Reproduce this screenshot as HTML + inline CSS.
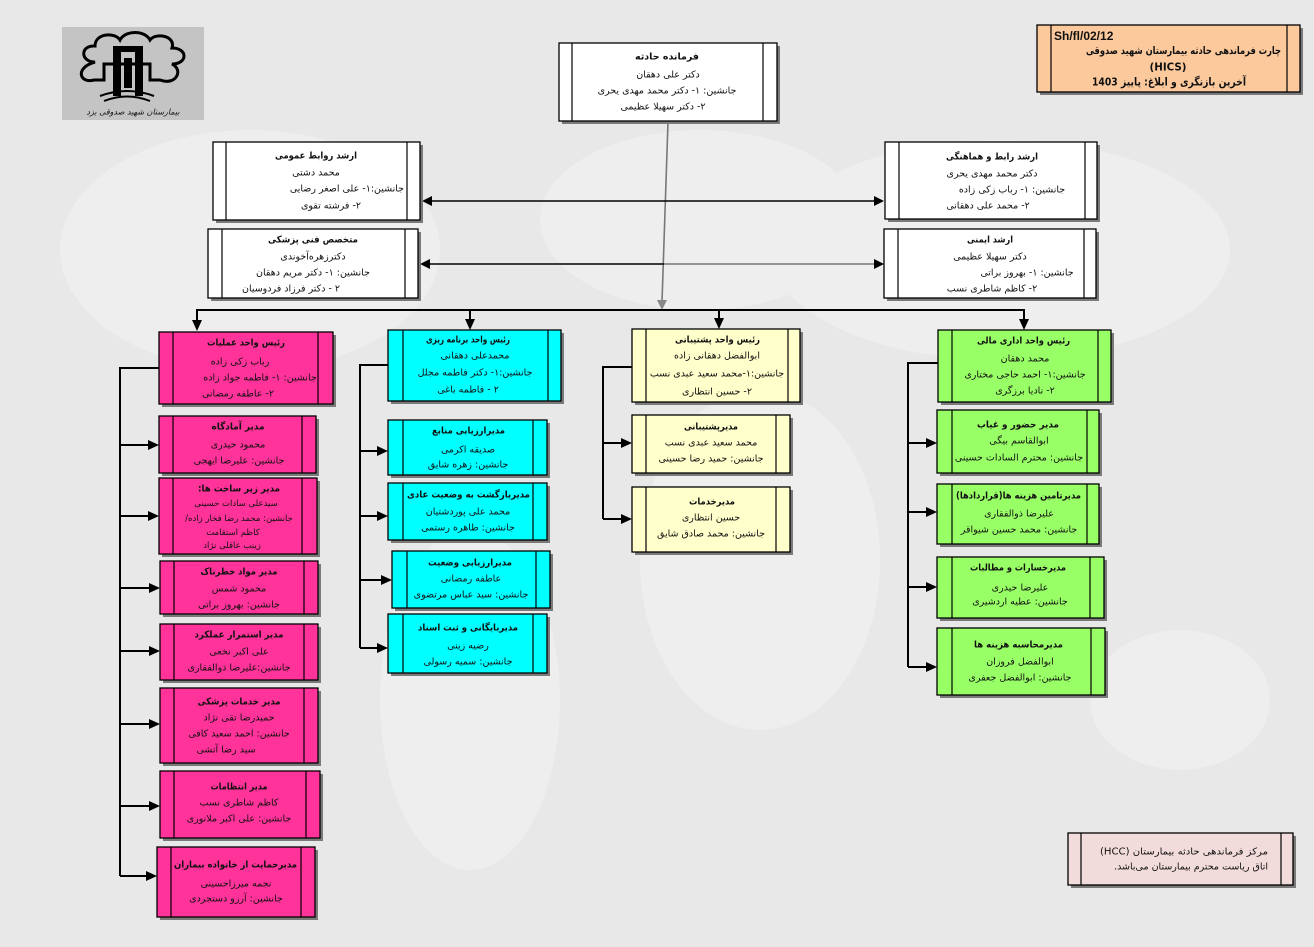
<!DOCTYPE html>
<html>
<head>
<meta charset="utf-8">
<style>
html,body{margin:0;padding:0;background:#e8e8e8;}
svg{display:block;}
text{font-family:"DejaVu Sans","Liberation Sans",sans-serif;font-size:9.5px;fill:#111;direction:rtl;dominant-baseline:central;text-anchor:middle;}
text.b{font-weight:bold;}
text.l{direction:ltr;font-family:"Liberation Sans",sans-serif;}
.sh{fill:#7a7a7a;}
.bx{stroke:#000;stroke-width:1.3;}
.in{stroke:#000;stroke-width:1.2;}
.cn{stroke:#000;stroke-width:2;fill:none;}
.ah{fill:#000;}
</style>
</head>
<body>
<svg width="1314" height="947" viewBox="0 0 1314 947" xmlns="http://www.w3.org/2000/svg">
<rect x="0" y="0" width="1314" height="947" fill="#e8e8e8"/>
<g fill="#eeeeee">
<ellipse cx="250" cy="250" rx="190" ry="120"/>
<ellipse cx="700" cy="220" rx="160" ry="90"/>
<ellipse cx="1000" cy="250" rx="230" ry="110"/>
<ellipse cx="760" cy="560" rx="120" ry="170"/>
<ellipse cx="470" cy="700" rx="90" ry="170"/>
<ellipse cx="1180" cy="700" rx="90" ry="70"/>
</g>

<!-- Logo -->
<rect x="62" y="27" width="142" height="93" fill="#c4c4c4"/>
<path d="M95 62 C80 62 80 45 95 46 C95 33 115 32 120 40 C125 30 145 30 150 40 C156 32 176 36 172 48 C188 48 188 64 172 64 C184 70 176 86 160 80 L150 80 L150 64 L104 64 L104 80 L94 80 C80 84 74 68 95 62 Z" fill="none" stroke="#000" stroke-width="3"/>
<rect x="113" y="46" width="30" height="6" fill="#000"/>
<rect x="113" y="52" width="8" height="44" fill="#000"/>
<rect x="135" y="52" width="8" height="44" fill="#000"/>
<rect x="124" y="58" width="8" height="30" fill="#000"/>
<path d="M100 96 Q127 86 154 96 M104 101 Q127 92 150 101" stroke="#000" stroke-width="2" fill="none"/>
<text x="133" y="112" style="font-size:8px;font-style:italic">بیمارستان شهید صدوقی یزد</text>

<!-- Connectors top -->
<line x1="668" y1="122" x2="662" y2="302" stroke="#777" stroke-width="1.6"/>
<polygon points="657,300 667,300 662,310" fill="#888"/>
<line x1="430" y1="201" x2="876" y2="201" stroke="#000" stroke-width="1.4"/>
<polygon class="ah" points="422,201 432,196 432,206"/>
<polygon class="ah" points="884,201 874,196 874,206"/>
<line x1="428" y1="264" x2="664" y2="264" stroke="#000" stroke-width="1.4"/>
<line x1="664" y1="264" x2="876" y2="264" stroke="#777" stroke-width="1.4"/>
<polygon class="ah" points="420,264 430,259 430,269"/>
<polygon class="ah" points="884,264 874,259 874,269"/>

<!-- bus -->
<line class="cn" x1="196" y1="310" x2="1025" y2="310"/>
<line class="cn" x1="197" y1="310" x2="197" y2="322"/>
<polygon class="ah" points="192,320 202,320 197,331"/>
<line class="cn" x1="470" y1="310" x2="470" y2="320"/>
<polygon class="ah" points="465,319 475,319 470,330"/>
<line class="cn" x1="719" y1="310" x2="719" y2="320"/>
<polygon class="ah" points="714,318 724,318 719,329"/>
<line class="cn" x1="1024" y1="310" x2="1024" y2="320"/>
<polygon class="ah" points="1019,319 1029,319 1024,330"/>

<!-- Pink connectors -->
<path class="cn" d="M159 368 H120 V876"/>
<line class="cn" x1="120" y1="445" x2="150" y2="445"/><polygon class="ah" points="148,440 159,445 148,450"/>
<line class="cn" x1="120" y1="516" x2="150" y2="516"/><polygon class="ah" points="148,511 159,516 148,521"/>
<line class="cn" x1="120" y1="588" x2="150" y2="588"/><polygon class="ah" points="149,583 160,588 149,593"/>
<line class="cn" x1="120" y1="651" x2="150" y2="651"/><polygon class="ah" points="149,646 160,651 149,656"/>
<line class="cn" x1="120" y1="724" x2="150" y2="724"/><polygon class="ah" points="149,719 160,724 149,729"/>
<line class="cn" x1="120" y1="806" x2="150" y2="806"/><polygon class="ah" points="149,801 160,806 149,811"/>
<line class="cn" x1="120" y1="876" x2="148" y2="876"/><polygon class="ah" points="146,871 157,876 146,881"/>
<!-- Cyan connectors -->
<path class="cn" d="M388 365 H360 V648"/>
<line class="cn" x1="360" y1="451" x2="380" y2="451"/><polygon class="ah" points="377,446 388,451 377,456"/>
<line class="cn" x1="360" y1="516" x2="380" y2="516"/><polygon class="ah" points="377,511 388,516 377,521"/>
<line class="cn" x1="360" y1="580" x2="384" y2="580"/><polygon class="ah" points="381,575 392,580 381,585"/>
<line class="cn" x1="360" y1="648" x2="380" y2="648"/><polygon class="ah" points="377,643 388,648 377,653"/>
<!-- Yellow connectors -->
<path class="cn" d="M632 367 H603 V519"/>
<line class="cn" x1="603" y1="443" x2="624" y2="443"/><polygon class="ah" points="621,438 632,443 621,448"/>
<line class="cn" x1="603" y1="519" x2="624" y2="519"/><polygon class="ah" points="621,514 632,519 621,524"/>
<!-- Green connectors -->
<path class="cn" d="M938 363 H908 V667"/>
<line class="cn" x1="908" y1="443" x2="929" y2="443"/><polygon class="ah" points="926,438 937,443 926,448"/>
<line class="cn" x1="908" y1="512" x2="929" y2="512"/><polygon class="ah" points="926,507 937,512 926,517"/>
<line class="cn" x1="908" y1="587" x2="929" y2="587"/><polygon class="ah" points="926,582 937,587 926,592"/>
<line class="cn" x1="908" y1="667" x2="929" y2="667"/><polygon class="ah" points="926,662 937,667 926,672"/>

<!-- Top center -->
<rect class="sh" x="562" y="46" width="218" height="78"/>
<rect class="bx" x="559" y="43" width="218" height="78" fill="#fff"/>
<line class="in" x1="572" y1="43" x2="572" y2="121"/><line class="in" x1="763" y1="43" x2="763" y2="121"/>
<text class="b" x="667" y="57" textLength="64" lengthAdjust="spacingAndGlyphs">فرمانده حادثه</text>
<text x="668" y="75">دکتر علی دهقان</text>
<text x="667" y="91">جانشین: ۱- دکتر محمد مهدی یحری</text>
<text x="663" y="107">۲- دکتر سهیلا عظیمی</text>

<!-- Orange title -->
<rect class="sh" x="1040" y="28" width="263" height="67"/>
<rect class="bx" x="1037" y="25" width="263" height="67" fill="#fbc99c"/>
<line class="in" x1="1051" y1="25" x2="1051" y2="92"/><line class="in" x1="1287" y1="25" x2="1287" y2="92"/>
<text class="b l" x="1054" y="36" style="text-anchor:start;font-size:12px">Sh/fl/02/12</text>
<text class="b" x="1183.5" y="51" style="font-size:10.5px" textLength="195" lengthAdjust="spacingAndGlyphs">چارت فرماندهی حادثه بیمارستان شهید صدوقی</text>
<text class="b" x="1168" y="67" style="font-size:11px" textLength="37" lengthAdjust="spacingAndGlyphs">(HICS)</text>
<text class="b" x="1169" y="82" style="font-size:11px" textLength="154" lengthAdjust="spacingAndGlyphs">آخرین بازنگری و ابلاغ: پاییز 1403</text>

<!-- Left top 1 -->
<rect class="sh" x="216" y="145" width="207" height="78"/>
<rect class="bx" x="213" y="142" width="207" height="78" fill="#fff"/>
<line class="in" x1="226" y1="142" x2="226" y2="220"/><line class="in" x1="407" y1="142" x2="407" y2="220"/>
<text class="b" x="316" y="156" textLength="82" lengthAdjust="spacingAndGlyphs">ارشد روابط عمومی</text>
<text x="316" y="173">محمد دشتی</text>
<text x="404" y="189" style="text-anchor:start">جانشین:۱- علی اصغر رضایی</text>
<text x="331" y="206">۲- فرشته تقوی</text>

<!-- Left top 2 -->
<rect class="sh" x="211" y="232" width="210" height="69"/>
<rect class="bx" x="208" y="229" width="210" height="69" fill="#fff"/>
<line class="in" x1="222" y1="229" x2="222" y2="298"/><line class="in" x1="405" y1="229" x2="405" y2="298"/>
<text class="b" x="313" y="240" textLength="90" lengthAdjust="spacingAndGlyphs">متخصص فنی پزشکی</text>
<text x="313" y="257">دکترزهره‌آخوندی</text>
<text x="313" y="273">جانشین: ۱- دکتر مریم دهقان</text>
<text x="291" y="289">۲ - دکتر فرزاد فردوسیان</text>

<!-- Right top 1 -->
<rect class="sh" x="888" y="145" width="212" height="77"/>
<rect class="bx" x="885" y="142" width="212" height="77" fill="#fff"/>
<line class="in" x1="899" y1="142" x2="899" y2="219"/><line class="in" x1="1085" y1="142" x2="1085" y2="219"/>
<text class="b" x="992" y="157" textLength="92" lengthAdjust="spacingAndGlyphs">ارشد رابط و هماهنگی</text>
<text x="992" y="174">دکتر محمد مهدی یحری</text>
<text x="1012" y="190">جانشین: ۱- رباب زکی زاده</text>
<text x="988" y="206">۲- محمد علی دهقانی</text>

<!-- Right top 2 -->
<rect class="sh" x="887" y="232" width="212" height="69"/>
<rect class="bx" x="884" y="229" width="212" height="69" fill="#fff"/>
<line class="in" x1="898" y1="229" x2="898" y2="298"/><line class="in" x1="1084" y1="229" x2="1084" y2="298"/>
<text class="b" x="990" y="240" textLength="46" lengthAdjust="spacingAndGlyphs">ارشد ایمنی</text>
<text x="990" y="257">دکتر سهیلا عظیمی</text>
<text x="1027" y="273">جانشین: ۱- بهروز براتی</text>
<text x="992" y="289">۲- کاظم شاطری نسب</text>

<!-- Pink main -->
<rect class="sh" x="162" y="335" width="174" height="72"/>
<rect class="bx" x="159" y="332" width="174" height="72" fill="#ff3399"/>
<line class="in" x1="173" y1="332" x2="173" y2="404"/><line class="in" x1="318" y1="332" x2="318" y2="404"/>
<text class="b" x="246" y="343" textLength="78" lengthAdjust="spacingAndGlyphs">رئیس واحد عملیات</text>
<text x="240" y="362">رباب زکی زاده</text>
<text x="260" y="378">جانشین: ۱- فاطمه جواد زاده</text>
<text x="238" y="394">۲- عاطفه رمضانی</text>

<!-- P1 -->
<rect class="sh" x="162" y="419" width="157" height="57"/>
<rect class="bx" x="159" y="416" width="157" height="57" fill="#ff3399"/>
<line class="in" x1="173" y1="416" x2="173" y2="473"/><line class="in" x1="302" y1="416" x2="302" y2="473"/>
<text class="b" x="238" y="427" textLength="53" lengthAdjust="spacingAndGlyphs">مدیر آمادگاه</text>
<text x="238" y="445">محمود حیدری</text>
<text x="239" y="461">جانشین: علیرضا ایهجی</text>

<!-- P2 -->
<rect class="sh" x="162" y="481" width="158" height="76"/>
<rect class="bx" x="159" y="478" width="158" height="76" fill="#ff3399"/>
<line class="in" x1="173" y1="478" x2="173" y2="554"/><line class="in" x1="302" y1="478" x2="302" y2="554"/>
<text class="b" x="239" y="489" textLength="82" lengthAdjust="spacingAndGlyphs">مدیر زیر ساخت ها:</text>
<text x="236" y="504" style="font-size:8.5px">سیدعلی سادات حسینی</text>
<text x="239" y="519" style="font-size:8.5px">جانشین: محمد رضا فخار زاده/</text>
<text x="233" y="533" style="font-size:8.5px">کاظم استقامت</text>
<text x="232" y="546" style="font-size:8.5px">زینب عاقلی نژاد</text>

<!-- P3 -->
<rect class="sh" x="163" y="564" width="158" height="53"/>
<rect class="bx" x="160" y="561" width="158" height="53" fill="#ff3399"/>
<line class="in" x1="174" y1="561" x2="174" y2="614"/><line class="in" x1="304" y1="561" x2="304" y2="614"/>
<text class="b" x="239" y="572" textLength="77" lengthAdjust="spacingAndGlyphs">مدیر مواد خطرناک</text>
<text x="239" y="589">محمود شمس</text>
<text x="239" y="605">جانشین: بهروز براتی</text>

<!-- P4 -->
<rect class="sh" x="163" y="627" width="158" height="56"/>
<rect class="bx" x="160" y="624" width="158" height="56" fill="#ff3399"/>
<line class="in" x1="174" y1="624" x2="174" y2="680"/><line class="in" x1="304" y1="624" x2="304" y2="680"/>
<text class="b" x="239" y="635" textLength="89" lengthAdjust="spacingAndGlyphs">مدیر استمرار عملکرد</text>
<text x="239" y="652">علی اکبر نخعی</text>
<text x="239" y="668">جانشین:علیرضا ذوالفقاری</text>

<!-- P5 -->
<rect class="sh" x="163" y="691" width="158" height="75"/>
<rect class="bx" x="160" y="688" width="158" height="75" fill="#ff3399"/>
<line class="in" x1="174" y1="688" x2="174" y2="763"/><line class="in" x1="304" y1="688" x2="304" y2="763"/>
<text class="b" x="239" y="702" textLength="83" lengthAdjust="spacingAndGlyphs">مدیر خدمات پزشکی</text>
<text x="239" y="718">حمیدرضا تقی نژاد</text>
<text x="239" y="734">جانشین: احمد سعید کافی</text>
<text x="226" y="750">سید رضا آتشی</text>

<!-- P6 -->
<rect class="sh" x="163" y="774" width="160" height="67"/>
<rect class="bx" x="160" y="771" width="160" height="67" fill="#ff3399"/>
<line class="in" x1="174" y1="771" x2="174" y2="838"/><line class="in" x1="306" y1="771" x2="306" y2="838"/>
<text class="b" x="239" y="787" textLength="57" lengthAdjust="spacingAndGlyphs">مدیر انتظامات</text>
<text x="239" y="803">کاظم شاطری نسب</text>
<text x="239" y="819">جانشین: علی اکبر ملانوری</text>

<!-- P7 -->
<rect class="sh" x="160" y="850" width="158" height="70"/>
<rect class="bx" x="157" y="847" width="158" height="70" fill="#ff3399"/>
<line class="in" x1="171" y1="847" x2="171" y2="917"/><line class="in" x1="301" y1="847" x2="301" y2="917"/>
<text class="b" x="235.5" y="865" textLength="123" lengthAdjust="spacingAndGlyphs">مدیرحمایت از خانواده بیماران</text>
<text x="236" y="884">نجمه میرزاحسینی</text>
<text x="236" y="899">جانشین: آرزو دستجردی</text>

<!-- Cyan main -->
<rect class="sh" x="391" y="333" width="173" height="71"/>
<rect class="bx" x="388" y="330" width="173" height="71" fill="#00ffff"/>
<line class="in" x1="403" y1="330" x2="403" y2="401"/><line class="in" x1="548" y1="330" x2="548" y2="401"/>
<text class="b" x="468" y="340" textLength="84" lengthAdjust="spacingAndGlyphs">رئیس واحد برنامه ریزی</text>
<text x="475" y="356">محمدعلی دهقانی</text>
<text x="475" y="373">جانشین:۱- دکتر فاطمه مجلل</text>
<text x="468" y="390">۲ - فاطمه باغی</text>

<!-- C1 -->
<rect class="sh" x="391" y="423" width="159" height="55"/>
<rect class="bx" x="388" y="420" width="159" height="55" fill="#00ffff"/>
<line class="in" x1="403" y1="420" x2="403" y2="475"/><line class="in" x1="533" y1="420" x2="533" y2="475"/>
<text class="b" x="468.5" y="431" textLength="73" lengthAdjust="spacingAndGlyphs">مدیرارزیابی منابع</text>
<text x="468" y="450">صدیقه اکرمی</text>
<text x="468" y="465">جانشین: زهره شایق</text>

<!-- C2 -->
<rect class="sh" x="391" y="486" width="159" height="57"/>
<rect class="bx" x="388" y="483" width="159" height="57" fill="#00ffff"/>
<line class="in" x1="403" y1="483" x2="403" y2="540"/><line class="in" x1="533" y1="483" x2="533" y2="540"/>
<text class="b" x="468.5" y="495" textLength="123" lengthAdjust="spacingAndGlyphs">مدیربازگشت به وضعیت عادی</text>
<text x="468" y="512">محمد علی پوردشتیان</text>
<text x="468" y="528">جانشین: طاهره رستمی</text>

<!-- C3 -->
<rect class="sh" x="395" y="554" width="158" height="57"/>
<rect class="bx" x="392" y="551" width="158" height="57" fill="#00ffff"/>
<line class="in" x1="407" y1="551" x2="407" y2="608"/><line class="in" x1="536" y1="551" x2="536" y2="608"/>
<text class="b" x="470" y="563" textLength="84" lengthAdjust="spacingAndGlyphs">مدیرارزیابی وضعیت</text>
<text x="471" y="579">عاطفه رمضانی</text>
<text x="471" y="595">جانشین: سید عباس مرتضوی</text>

<!-- C4 -->
<rect class="sh" x="391" y="617" width="159" height="59"/>
<rect class="bx" x="388" y="614" width="159" height="59" fill="#00ffff"/>
<line class="in" x1="403" y1="614" x2="403" y2="673"/><line class="in" x1="533" y1="614" x2="533" y2="673"/>
<text class="b" x="468" y="628" textLength="100" lengthAdjust="spacingAndGlyphs">مدیربایگانی و ثبت اسناد</text>
<text x="468" y="646">رضیه زینی</text>
<text x="468" y="662">جانشین: سمیه رسولی</text>

<!-- Yellow main -->
<rect class="sh" x="635" y="332" width="168" height="73"/>
<rect class="bx" x="632" y="329" width="168" height="73" fill="#ffffcc"/>
<line class="in" x1="646" y1="329" x2="646" y2="402"/><line class="in" x1="788" y1="329" x2="788" y2="402"/>
<text class="b" x="717.5" y="340" textLength="85" lengthAdjust="spacingAndGlyphs">رئیس واحد پشتیبانی</text>
<text x="717" y="356">ابوالفضل دهقانی زاده</text>
<text x="717" y="374">جانشین:۱-محمد سعید عبدی نسب</text>
<text x="717" y="392">۲- حسین انتظاری</text>

<!-- Y1 -->
<rect class="sh" x="635" y="418" width="158" height="58"/>
<rect class="bx" x="632" y="415" width="158" height="58" fill="#ffffcc"/>
<line class="in" x1="646" y1="415" x2="646" y2="473"/><line class="in" x1="776" y1="415" x2="776" y2="473"/>
<text class="b" x="711" y="427" textLength="54" lengthAdjust="spacingAndGlyphs">مدیرپشتیبانی</text>
<text x="711" y="443">محمد سعید عبدی نسب</text>
<text x="711" y="459">جانشین: حمید رضا حسینی</text>

<!-- Y2 -->
<rect class="sh" x="635" y="490" width="158" height="65"/>
<rect class="bx" x="632" y="487" width="158" height="65" fill="#ffffcc"/>
<line class="in" x1="646" y1="487" x2="646" y2="552"/><line class="in" x1="776" y1="487" x2="776" y2="552"/>
<text class="b" x="712" y="502" textLength="46" lengthAdjust="spacingAndGlyphs">مدیرخدمات</text>
<text x="711" y="518">حسین انتظاری</text>
<text x="711" y="534">جانشین: محمد صادق شایق</text>

<!-- Green main -->
<rect class="sh" x="941" y="333" width="173" height="72"/>
<rect class="bx" x="938" y="330" width="173" height="72" fill="#99ff66"/>
<line class="in" x1="952" y1="330" x2="952" y2="402"/><line class="in" x1="1098" y1="330" x2="1098" y2="402"/>
<text class="b" x="1023.5" y="341" textLength="93" lengthAdjust="spacingAndGlyphs">رئیس واحد اداری مالی</text>
<text x="1025" y="359">محمد دهقان</text>
<text x="1025" y="375">جانشین:۱- احمد حاجی مختاری</text>
<text x="1025" y="391">۲- نادیا برزگری</text>

<!-- G1 -->
<rect class="sh" x="940" y="413" width="162" height="63"/>
<rect class="bx" x="937" y="410" width="162" height="63" fill="#99ff66"/>
<line class="in" x1="952" y1="410" x2="952" y2="473"/><line class="in" x1="1087" y1="410" x2="1087" y2="473"/>
<text class="b" x="1018" y="425" textLength="82" lengthAdjust="spacingAndGlyphs">مدیر حضور و غیاب</text>
<text x="1019" y="441">ابوالقاسم بیگی</text>
<text x="1019" y="458">جانشین: محترم السادات حسینی</text>

<!-- G2 -->
<rect class="sh" x="940" y="487" width="162" height="60"/>
<rect class="bx" x="937" y="484" width="162" height="60" fill="#99ff66"/>
<line class="in" x1="952" y1="484" x2="952" y2="544"/><line class="in" x1="1087" y1="484" x2="1087" y2="544"/>
<text class="b" x="1018.5" y="496" textLength="125" lengthAdjust="spacingAndGlyphs">مدیرتامین هزینه ها(قراردادها)</text>
<text x="1019" y="514">علیرضا ذوالفقاری</text>
<text x="1019" y="530">جانشین: محمد حسین شیواقر</text>

<!-- G3 -->
<rect class="sh" x="940" y="560" width="167" height="61"/>
<rect class="bx" x="937" y="557" width="167" height="61" fill="#99ff66"/>
<line class="in" x1="952" y1="557" x2="952" y2="618"/><line class="in" x1="1090" y1="557" x2="1090" y2="618"/>
<text class="b" x="1018" y="568" textLength="96" lengthAdjust="spacingAndGlyphs">مدیرخسارات و مطالبات</text>
<text x="1020" y="588">علیرضا حیدری</text>
<text x="1020" y="602">جانشین: عطیه اردشیری</text>

<!-- G4 -->
<rect class="sh" x="940" y="631" width="168" height="67"/>
<rect class="bx" x="937" y="628" width="168" height="67" fill="#99ff66"/>
<line class="in" x1="952" y1="628" x2="952" y2="695"/><line class="in" x1="1091" y1="628" x2="1091" y2="695"/>
<text class="b" x="1018.5" y="645" textLength="89" lengthAdjust="spacingAndGlyphs">مدیرمحاسبه هزینه ها</text>
<text x="1020" y="662">ابوالفضل فروزان</text>
<text x="1020" y="678">جانشین: ابوالفضل جعفری</text>

<!-- Note box -->
<rect class="sh" x="1071" y="836" width="225" height="52"/>
<rect class="bx" x="1068" y="833" width="225" height="52" fill="#f2dcdb"/>
<line class="in" x1="1081" y1="833" x2="1081" y2="885"/><line class="in" x1="1281" y1="833" x2="1281" y2="885"/>
<text x="1184" y="852" textLength="168" lengthAdjust="spacingAndGlyphs">مرکز فرماندهی حادثه بیمارستان (HCC)</text>
<text x="1268" y="867" style="text-anchor:start">اتاق ریاست محترم بیمارستان می‌باشد.</text>
</svg>
</body>
</html>
